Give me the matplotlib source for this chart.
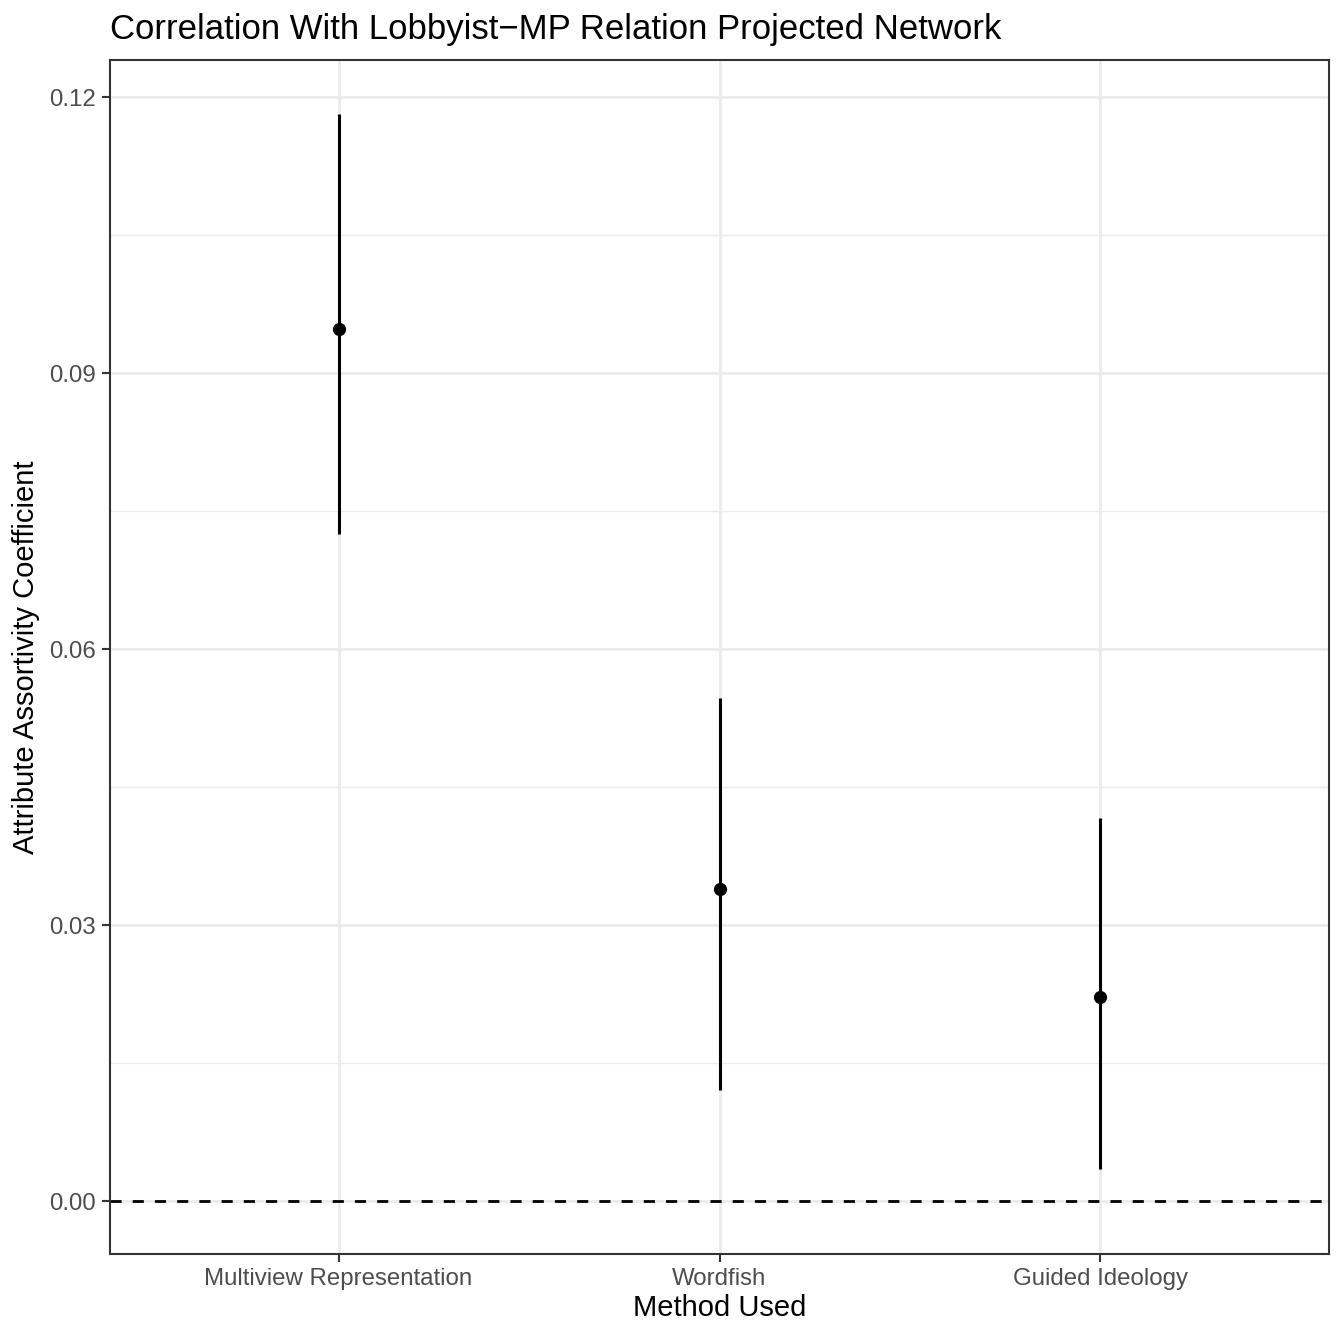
import matplotlib
matplotlib.use('Agg')
import matplotlib.pyplot as plt
from matplotlib.ticker import MultipleLocator

plt.rcParams['font.family'] = ['Liberation Sans', 'DejaVu Sans']

# assortativity estimates with their intervals
methods = ['Multiview Representation', 'Wordfish', 'Guided Ideology']
estimate = [0.0948, 0.0339, 0.0222]
lower = [0.0725, 0.0121, 0.0035]
upper = [0.1182, 0.0547, 0.0416]

fig = plt.figure(figsize=(13.38, 13.28), dpi=100)
ax = fig.add_axes([0.0822, 0.0557, 0.9111, 0.8991])

x = range(1, len(methods) + 1)

# grid in the theme_bw look
ax.set_axisbelow(True)
ax.yaxis.set_major_locator(MultipleLocator(0.03))
ax.yaxis.set_minor_locator(MultipleLocator(0.015))
ax.grid(which='major', axis='both', color='#EBEBEB', linewidth=2.0)
ax.grid(which='minor', axis='y', color='#EBEBEB', linewidth=1.0)
ax.tick_params(which='minor', length=0)

ax.axhline(0, color='black', linestyle=(0, (4, 4)), linewidth=2.0, zorder=2)
ax.vlines(x, lower, upper, color='black', linewidth=2.2, zorder=3)
ax.plot(x, estimate, 'o', color='black', markersize=8.5, zorder=4)

ax.set_xlim(0.4, 3.6)
ax.set_ylim(-0.00576, 0.12402)
ax.set_xticks(list(x))
ax.set_xticklabels(methods)
ax.set_yticklabels([f'{v:.2f}' for v in ax.get_yticks()])

ax.tick_params(which='major', length=6, width=1.5, color='#333333',
               labelsize=17.3, labelcolor='#4D4D4D', pad=4)
for s in ax.spines.values():
    s.set_color('#333333')
    s.set_linewidth(1.5)

ax.set_xlabel('Method Used', fontsize=21, labelpad=3)
ax.set_ylabel('Attribute Assortivity Coefficient', fontsize=21, labelpad=7)
ax.set_title('Correlation With Lobbyist\u2212MP Relation Projected Network',
             fontsize=25, loc='left', pad=15)

fig.savefig('out.png', dpi=100)
